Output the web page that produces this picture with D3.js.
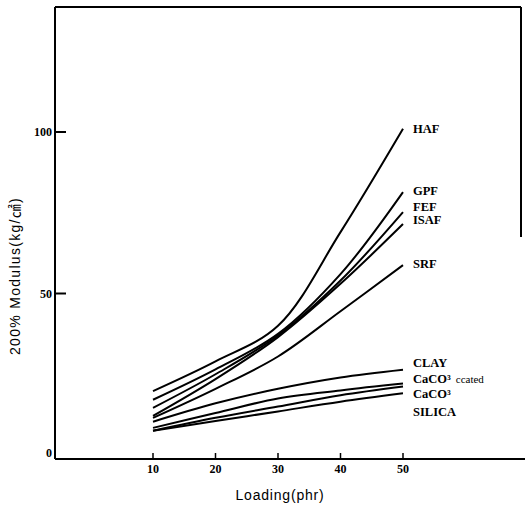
<!DOCTYPE html>
<html>
<head>
<meta charset="utf-8">
<script src="https://d3js.org/d3.v7.min.js"></script>
<style>
  body { margin: 0; background: #fff; }
  svg { display: block; }
</style>
</head>
<body>
<svg id="chart" width="525" height="509"></svg>
<script>
// loading (phr) and 200% modulus (kg/cm2)
const loading = [10, 20, 30, 40, 50];
const haf = [19.8, 29, 40, 69, 101];
const gpf = [17.1, 26.5, 37.5, 56, 81.4];
const fef = [14.6, 25, 37, 54, 75.2];
const isaf = [12.1, 23.5, 36.5, 53, 71.5];
const srf = [11.5, 20.5, 30.5, 44.5, 58.8];
const clay = [10.3, 16, 20.5, 24, 26.4];
const caco3Coated = [8.4, 13, 17.5, 20, 22.1];
const caco3 = [7.5, 11.5, 15, 18.5, 21.2];
const silica = [7.5, 10.5, 13.5, 16.5, 19.1];

const seriesNames = ["HAF", "GPF", "FEF", "ISAF", "SRF", "CLAY", "CaCO³ ccated", "CaCO³", "SILICA"];
const seriesValues = [haf, gpf, fef, isaf, srf, clay, caco3Coated, caco3, silica];
const xTicks = [10, 20, 30, 40, 50];
const yTicks = [0, 50, 100];

const svg = d3.select("#chart");

const x = d3.scaleLinear().domain([10, 50]).range([153, 403]);
const y = d3.scaleLinear().domain([0, 100]).range([455, 132]);

const frameLeft = 55, frameRight = 521, frameTop = 7, frameBottom = y(0) + 4;

// frame as in the scan: top, left, bottom to the edge, short right side
svg.append("g")
    .attr("stroke", "#000")
    .attr("stroke-width", 2)
    .selectAll("line")
    .data([
        [frameLeft, frameTop, frameRight, frameTop],
        [frameLeft, frameTop, frameLeft, frameBottom],
        [frameLeft, frameBottom, 525, frameBottom],
        [frameRight, frameTop, frameRight, 237]
    ])
    .join("line")
    .attr("x1", d => d[0]).attr("y1", d => d[1])
    .attr("x2", d => d[2]).attr("y2", d => d[3]);

// y ticks point inward
svg.append("g")
    .selectAll("line")
    .data(yTicks.filter(t => t > 0))
    .join("line")
    .attr("x1", frameLeft).attr("x2", frameLeft + 11)
    .attr("y1", d => y(d)).attr("y2", d => y(d))
    .attr("stroke", "#000").attr("stroke-width", 2);

svg.append("g")
    .selectAll("text")
    .data(yTicks)
    .join("text")
    .attr("x", frameLeft - 3)
    .attr("y", d => d === 0 ? y(d) - 2 : y(d))
    .attr("dy", "0.35em")
    .attr("text-anchor", "end")
    .attr("font-family", "Liberation Serif")
    .attr("font-weight", "bold")
    .attr("font-size", 12)
    .text(d => d);

// x ticks point upward from the axis
svg.append("g")
    .selectAll("line")
    .data(xTicks)
    .join("line")
    .attr("x1", d => x(d)).attr("x2", d => x(d))
    .attr("y1", frameBottom).attr("y2", frameBottom - 6)
    .attr("stroke", "#000").attr("stroke-width", 1.5);

svg.append("g")
    .selectAll("text")
    .data(xTicks)
    .join("text")
    .attr("x", d => x(d))
    .attr("y", frameBottom + 14)
    .attr("text-anchor", "middle")
    .attr("font-family", "Liberation Serif")
    .attr("font-weight", "bold")
    .attr("font-size", 12)
    .text(d => d);

// axis titles
svg.append("text")
    .attr("x", 280).attr("y", 500)
    .attr("text-anchor", "middle")
    .attr("font-family", "Liberation Sans, 'Noto Sans CJK KR'")
    .attr("font-size", 14)
    .attr("letter-spacing", 0.8)
    .text("Loading(phr)");

svg.append("text")
    .attr("transform", "translate(20,276) rotate(-90)")
    .attr("text-anchor", "middle")
    .attr("font-family", "Liberation Sans, 'Noto Sans CJK KR'")
    .attr("font-size", 14)
    .attr("letter-spacing", 1.3)
    .text("200% Modulus(kg/㎠)");

// curves
const line = d3.line()
    .x((d, i) => x(loading[i]))
    .y(d => y(d))
    .curve(d3.curveCatmullRom.alpha(0.5));

svg.append("g")
    .selectAll("path")
    .data(seriesValues)
    .join("path")
    .attr("d", d => line(d))
    .attr("fill", "none")
    .attr("stroke", "#000")
    .attr("stroke-width", 2);

// labels next to the line ends, nudged to avoid overlap
const labelShift = [0, -1, -5, -4, -1, -7, -5, 7, 18];
const labels = svg.append("g")
    .selectAll("text")
    .data(seriesNames)
    .join("text")
    .attr("x", x(50) + 10)
    .attr("y", (d, i) => y(seriesValues[i][4]) + labelShift[i])
    .attr("dy", "0.35em")
    .attr("font-family", "Liberation Serif")
    .attr("font-weight", "bold")
    .attr("font-size", 12.5);

// the second word of a label is set smaller and lighter, as in the scan
labels.each(function(d) {
    const parts = d.split(" ");
    const t = d3.select(this);
    t.append("tspan").text(parts[0]);
    if (parts.length > 1) {
        t.append("tspan")
            .attr("dx", 5)
            .attr("font-weight", "normal")
            .attr("font-size", 11)
            .text(parts.slice(1).join(" "));
    }
});
</script>
</body>
</html>
